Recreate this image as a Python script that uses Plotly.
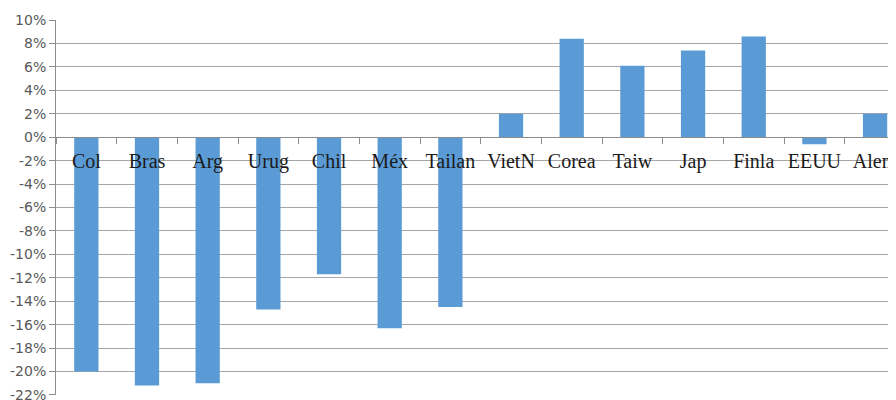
import plotly.graph_objects as go

categories = ["Col", "Bras", "Arg", "Urug", "Chil", "Méx", "Tailan", "VietN",
              "Corea", "Taiw", "Jap", "Finla", "EEUU", "Alem"]
values = [-20.0, -21.2, -21.0, -14.7, -11.7, -16.3, -14.5, 2.0,
          8.4, 6.1, 7.4, 8.6, -0.6, 2.0]
y_ticks = list(range(-22, 11, 2))

y_min, y_max = -22, 10

fig = go.Figure()
fig.add_trace(go.Bar(
    x=categories, y=values,
    marker=dict(color="#5B9BD5", line=dict(width=0)),
    width=0.4,
    showlegend=False,
))

fig.update_layout(
    width=888, height=392,
    margin=dict(l=48, r=0, t=12, b=5),
    paper_bgcolor="white", plot_bgcolor="white",
    bargap=0.6,
    xaxis=dict(
        type="category",
        range=[-0.5, 13.345],
        anchor="free",
        position=(0 - y_min) / (y_max - y_min),
        showline=True, linecolor="#8c8c8c", linewidth=1,
        ticks="outside", ticklen=6, tickcolor="#8c8c8c",
        tickson="boundaries",
        showgrid=False,
        tickangle=0,
        automargin=False,
        tickfont=dict(family="Liberation Serif", size=20, color="#1a1a1a"),
        ticklabelstandoff=6,
    ),
    yaxis=dict(
        range=[y_min - 0.01, y_max + 0.01],
        tickvals=y_ticks,
        ticktext=[f"{v}%" for v in y_ticks],
        showline=True, linecolor="#8c8c8c", linewidth=1,
        ticks="outside", ticklen=6, tickcolor="#8c8c8c",
        showgrid=True, gridcolor="#a6a6a6", gridwidth=1,
        zeroline=False,
        automargin=False,
        ticklabeloverflow="allow",
        tickfont=dict(family="DejaVu Sans", size=14, color="#595959"),
    ),
)

fig.write_html("out.html")
